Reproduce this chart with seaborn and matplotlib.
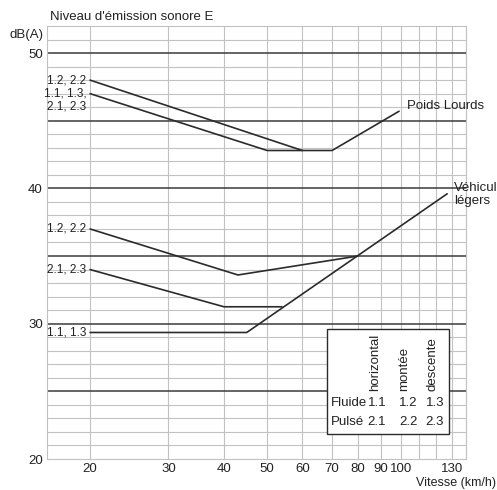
import matplotlib
matplotlib.use("Agg")
import numpy as np
import pandas as pd
import seaborn as sns
import matplotlib.pyplot as plt
from matplotlib.patches import Rectangle
from matplotlib.ticker import NullLocator, FixedLocator, FixedFormatter

# ---------------- data ----------------
pl_12_speed = [20, 60]
pl_12_db = [48.0, 42.8]
pl_11_speed = [20, 50, 70, 99]
pl_11_db = [47.0, 42.8, 42.8, 45.7]

vl_12_speed = [20, 43, 80]
vl_12_db = [37.0, 33.6, 35.0]
vl_21_speed = [20, 40, 54]
vl_21_db = [34.0, 31.25, 31.25]
vl_11_speed = [20, 45, 127]
vl_11_db = [29.35, 29.35, 39.6]

x_tick_values = [20, 30, 40, 50, 60, 70, 80, 90, 100, 130]
x_tick_labels = ["20", "30", "40", "50", "60", "70", "80", "90", "100", "130"]
y_tick_values = [20, 30, 40, 50]
y_tick_labels = ["20", "30", "40", "50"]
grid_speeds = list(range(20, 141, 10))
major_db = [25, 30, 35, 40, 45, 50]

legend_cols = ["horizontal", "montée", "descente"]
legend_rows = ["Fluide", "Pulsé"]
legend_codes = [["1.1", "1.2", "1.3"], ["2.1", "2.2", "2.3"]]

# ---------------- build table ----------------
frames = []
for name, sp, db in [("PL 1.2", pl_12_speed, pl_12_db),
                     ("PL 1.1", pl_11_speed, pl_11_db),
                     ("VL 1.2", vl_12_speed, vl_12_db),
                     ("VL 2.1", vl_21_speed, vl_21_db),
                     ("VL 1.1", vl_11_speed, vl_11_db)]:
    frames.append(pd.DataFrame({"courbe": name, "vitesse": sp, "db": db}))
df = pd.concat(frames, ignore_index=True)

# ---------------- figure ----------------
sns.set_style("white")
plt.rcParams["font.family"] = ["Liberation Sans", "DejaVu Sans"]

W, H = 497, 490
def fx(p):
    return p / W
def fy(p):
    return 1 - p / H

fig = plt.figure(figsize=(W / 100, H / 100), dpi=100)
ax = fig.add_axes([fx(47), fy(459), (466 - 47) / W, (459 - 26) / H])
ax.set_xscale("log")
ax.set_xlim(16, 140)
ax.set_ylim(20, 52)

LINE = "#2b2b2b"
MAJOR = "#3a3a3a"
GRID = "#c2c2c2"

for v in grid_speeds:
    ax.axvline(v, color=GRID, lw=0.8, zorder=1)
for d in range(21, 52):
    if d not in major_db:
        ax.axhline(d, color=GRID, lw=0.8, zorder=1)
for d in major_db:
    ax.axhline(d, color=MAJOR, lw=1.1, zorder=2)

sns.lineplot(data=df, x="vitesse", y="db", units="courbe", estimator=None,
             sort=False, color=LINE, lw=1.2, ax=ax, legend=False, zorder=4)

ax.xaxis.set_major_locator(FixedLocator(x_tick_values))
ax.xaxis.set_major_formatter(FixedFormatter(x_tick_labels))
ax.xaxis.set_minor_locator(NullLocator())
ax.set_yticks(y_tick_values)
ax.set_yticklabels(y_tick_labels)
ax.yaxis.set_minor_locator(NullLocator())
ax.tick_params(axis="both", length=0, labelsize=9.5, colors="#222222")
ax.tick_params(axis="x", pad=3)
ax.tick_params(axis="y", pad=3)
ax.set_xlabel("")
ax.set_ylabel("")
for s in ax.spines.values():
    s.set_color(GRID)
    s.set_linewidth(0.8)

# curve labels
lab_kw = dict(ha="right", va="center", fontsize=8.5, color="#222222")
ax.text(19.6, 48.0, "1.2, 2.2", **lab_kw)
ax.text(19.6, 47.0, "1.1, 1.3,", **lab_kw)
ax.text(19.6, 46.05, "2.1, 2.3", **lab_kw)
ax.text(19.6, 37.0, "1.2, 2.2", **lab_kw)
ax.text(19.6, 34.0, "2.1, 2.3", **lab_kw)
ax.text(19.6, 29.35, "1.1, 1.3", **lab_kw)

# legend box
ax.add_patch(Rectangle(((327 - 47) / 419, (459 - 434) / 433),
                       (449 - 327) / 419, (434 - 329) / 433,
                       transform=ax.transAxes, facecolor="white",
                       edgecolor=LINE, lw=1.0, zorder=5))
col_x = [375, 404, 432]
for cx, t in zip(col_x, legend_cols):
    fig.text(fx(cx), fy(391), t, rotation=90, ha="center", va="bottom",
             fontsize=9.5, color="#222222", zorder=6)
row_y = [403, 422]
for ry, rname, codes in zip(row_y, legend_rows, legend_codes):
    fig.text(fx(331), fy(ry), rname, ha="left", va="center", fontsize=9.5,
             color="#222222", zorder=6)
    for cx, c in zip([377, 408, 435], codes):
        fig.text(fx(cx), fy(ry), c, ha="center", va="center", fontsize=9.5,
                 color="#222222", zorder=6)

# other texts
fig.text(fx(50), fy(17), "Niveau d'émission sonore E", ha="left", va="center",
         fontsize=9.5, color="#222222")
fig.text(fx(43), fy(35), "dB(A)", ha="right", va="center", fontsize=9.5,
         color="#222222")
fig.text(fx(496), fy(483), "Vitesse (km/h)", ha="right", va="center",
         fontsize=9, color="#222222")
fig.text(fx(407), fy(106), "Poids Lourds", ha="left", va="center",
         fontsize=9.5, color="#222222")
fig.text(fx(454), fy(188), "Véhicul", ha="left", va="center",
         fontsize=9.5, color="#222222")
fig.text(fx(454), fy(201), "légers", ha="left", va="center",
         fontsize=9.5, color="#222222")

fig.savefig("out.png", dpi=100, facecolor="white")
